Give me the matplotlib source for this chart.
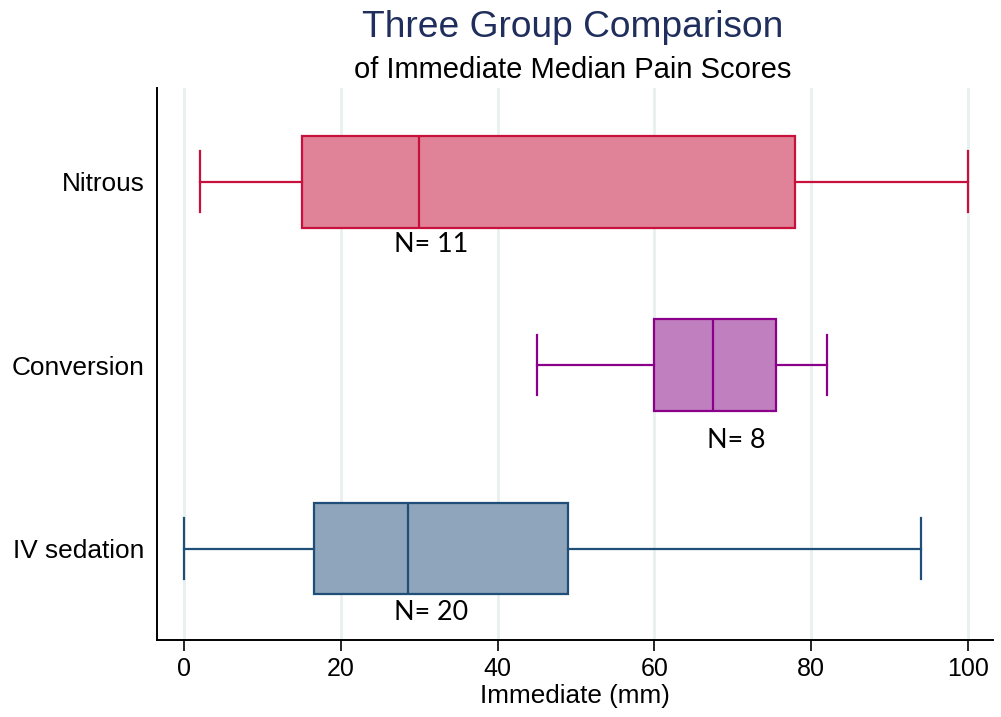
import matplotlib.pyplot as plt

# group data
groups = ["IV sedation", "Conversion", "Nitrous"]
whislo = [0, 45, 2]
q1 = [16.5, 60, 15]
med = [28.5, 67.5, 30]
q3 = [49, 75.5, 78]
whishi = [94, 82, 100]
n_obs = [20, 8, 11]
n_label_x = [31.5, 70.5, 31.5]
n_label_dy = [0.35, 0.41, 0.34]

face_colors = ["#8fa5bb", "#c07fbf", "#e08398"]
edge_colors = ["#1f4e79", "#8b008b", "#c8103c"]

fig = plt.figure(figsize=(10.01, 7.17), dpi=100)
ax = fig.add_axes([0.157, 0.107, 0.835, 0.770])

positions = list(range(1, len(groups) + 1))
for i, pos in enumerate(positions):
    stats = [{"whislo": whislo[i], "q1": q1[i], "med": med[i],
              "q3": q3[i], "whishi": whishi[i], "fliers": []}]
    ec = edge_colors[i]
    ax.bxp(stats, positions=[pos], vert=False, widths=0.5, capwidths=0.33,
           patch_artist=True, showfliers=False,
           boxprops=dict(facecolor=face_colors[i], edgecolor=ec, linewidth=1.6),
           medianprops=dict(color=ec, linewidth=1.6),
           whiskerprops=dict(color=ec, linewidth=1.6),
           capprops=dict(color=ec, linewidth=1.6))
    ax.text(n_label_x[i], pos - n_label_dy[i], f"N= {n_obs[i]}",
            ha="center", va="center", fontsize=19.4, family="Lato")

ax.set_xlim(-3.45, 103.2)
ax.set_ylim(0.5, 3.51)
ax.set_xticks([0, 20, 40, 60, 80, 100])
ax.set_yticks(positions)
ax.set_yticklabels(groups)
ax.tick_params(axis="y", length=0, pad=9, labelsize=18.9)
ax.tick_params(axis="x", length=8, width=1.2, labelsize=18, pad=4)
for lab in ax.get_xticklabels() + ax.get_yticklabels():
    lab.set_family("Liberation Sans")

ax.grid(axis="x", color="#e8f0f0", linewidth=2)
ax.set_axisbelow(True)
for s in ["top", "right"]:
    ax.spines[s].set_visible(False)
for s in ["left", "bottom"]:
    ax.spines[s].set_linewidth(1.4)

ax.set_xlabel("Immediate (mm)", fontsize=18.8, family="Liberation Sans", labelpad=2)

fig.text(0.572, 0.962, "Three Group Comparison", ha="center", va="center",
         fontsize=26.7, color="#1f2e5c", family="Liberation Sans")
fig.text(0.572, 0.903, "of Immediate Median Pain Scores", ha="center", va="center",
         fontsize=21, family="Liberation Sans")

fig.savefig("out.png", dpi=100)
